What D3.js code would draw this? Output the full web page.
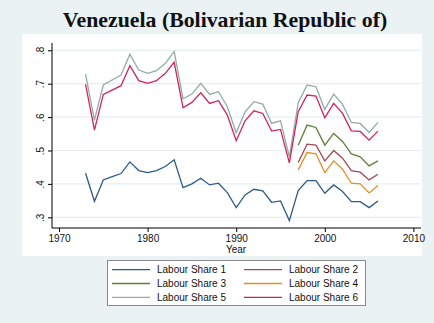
<!DOCTYPE html>
<html>
<head>
<meta charset="utf-8">
<script src="https://cdn.jsdelivr.net/npm/d3@7"></script>
<style>
  html, body { margin: 0; padding: 0; background: #eaf2f3; }
  svg { display: block; }
</style>
</head>
<body>
<svg id="chart" width="434" height="323"></svg>
<script>
// Labour share estimates, Venezuela (Bolivarian Republic of)
const yearsLong = d3.range(1973, 2007);   // 1973–2006
const yearsShort = d3.range(1997, 2007);  // 1997–2006

const share1 = [0.432, 0.348, 0.412, 0.422, 0.431, 0.466, 0.440, 0.434, 0.440, 0.452, 0.472,
                0.389, 0.400, 0.417, 0.397, 0.402, 0.374, 0.329, 0.367, 0.384, 0.379, 0.345, 0.349,
                0.290, 0.380, 0.410, 0.410, 0.372, 0.397, 0.377, 0.347, 0.347, 0.329, 0.349];
const share5 = [0.729, 0.591, 0.696, 0.711, 0.726, 0.788, 0.741, 0.731, 0.739, 0.761, 0.796,
                0.655, 0.669, 0.701, 0.668, 0.676, 0.631, 0.553, 0.616, 0.646, 0.639, 0.581, 0.589,
                0.481, 0.643, 0.696, 0.691, 0.623, 0.669, 0.638, 0.584, 0.581, 0.554, 0.584];
const share6 = [0.698, 0.561, 0.668, 0.681, 0.694, 0.754, 0.709, 0.701, 0.709, 0.731, 0.764,
                0.628, 0.644, 0.673, 0.641, 0.649, 0.606, 0.529, 0.589, 0.619, 0.611, 0.558, 0.563,
                0.463, 0.616, 0.666, 0.663, 0.598, 0.641, 0.611, 0.559, 0.557, 0.531, 0.558];
const share2 = [0.464, 0.519, 0.516, 0.469, 0.500, 0.477, 0.440, 0.435, 0.412, 0.429];
const share3 = [0.516, 0.576, 0.569, 0.516, 0.551, 0.527, 0.490, 0.481, 0.454, 0.469];
const share4 = [0.442, 0.494, 0.490, 0.434, 0.469, 0.444, 0.402, 0.400, 0.373, 0.395];

const xTicks = [1970, 1980, 1990, 2000, 2010];
const yTicks = [0.3, 0.4, 0.5, 0.6, 0.7, 0.8];
const yTickLabels = [".3", ".4", ".5", ".6", ".7", ".8"];

const seriesNames = ["Labour Share 1", "Labour Share 2", "Labour Share 3",
                     "Labour Share 4", "Labour Share 5", "Labour Share 6"];
const seriesColors = ["#2f5a87", "#a04a55", "#5d8038", "#eb8c1e", "#93aca4", "#d0245a"];

const series = [
  { name: seriesNames[0], years: yearsLong, values: share1, color: seriesColors[0] },
  { name: seriesNames[1], years: yearsShort, values: share2, color: seriesColors[1] },
  { name: seriesNames[2], years: yearsShort, values: share3, color: seriesColors[2] },
  { name: seriesNames[3], years: yearsShort, values: share4, color: seriesColors[3] },
  { name: seriesNames[4], years: yearsLong, values: share5, color: seriesColors[4] },
  { name: seriesNames[5], years: yearsLong, values: share6, color: seriesColors[5] }
];

const svg = d3.select("#chart");
const sans = "'Liberation Sans', Arial, sans-serif";

// inner (white) region holding the plot and its axes
svg.append("rect").attr("x", 22).attr("y", 34).attr("width", 400).attr("height", 222)
  .attr("fill", "#ffffff");

// title
svg.append("text")
  .attr("x", 225).attr("y", 27)
  .attr("text-anchor", "middle")
  .style("font-family", "'Liberation Serif', 'Times New Roman', serif")
  .style("font-weight", "bold")
  .style("font-size", "21.8px")
  .attr("fill", "#111")
  .text("Venezuela (Bolivarian Republic of)");

const plotLeft = 52, plotRight = 421, plotTop = 43, plotBottom = 228;
const x = d3.scaleLinear().domain([1970, 2010]).range([59, 413.4]);
const y = d3.scaleLinear().domain([0.3, 0.8]).range([217.3, 50.3]);

// horizontal grid
svg.append("g").selectAll("line").data(yTicks).join("line")
  .attr("x1", plotLeft).attr("x2", plotRight)
  .attr("y1", d => y(d)).attr("y2", d => y(d))
  .attr("stroke", "#e6eff0").attr("stroke-width", 1.2);

// x axis
const xAxis = d3.axisBottom(x).tickValues(xTicks).tickFormat(d3.format("d"))
  .tickSize(4).tickSizeOuter(0);
const gx = svg.append("g").attr("transform", `translate(0,${plotBottom})`).call(xAxis);
gx.select(".domain").remove();
gx.append("line").attr("x1", plotLeft).attr("x2", plotRight)
  .attr("stroke", "#000");
gx.selectAll(".tick line").attr("stroke", "#000");
gx.selectAll(".tick text")
  .attr("y", 6.5)
  .style("font-family", sans).style("font-size", "10px").attr("fill", "#111");

// y axis
const yAxis = d3.axisLeft(y).tickValues(yTicks)
  .tickFormat((d, i) => yTickLabels[i]).tickSize(4).tickSizeOuter(0);
const gy = svg.append("g").attr("transform", `translate(${plotLeft},0)`).call(yAxis);
gy.select(".domain").remove();
gy.append("line").attr("y1", plotTop).attr("y2", plotBottom).attr("stroke", "#000");
gy.selectAll(".tick line").attr("stroke", "#000");
gy.selectAll(".tick text")
  .attr("x", null).attr("dy", null)
  .attr("transform", "translate(-8,0) rotate(-90)")
  .attr("text-anchor", "middle")
  .style("font-family", sans).style("font-size", "10px").attr("fill", "#111");

// x axis title
svg.append("text").attr("x", 236).attr("y", 252.5)
  .attr("text-anchor", "middle")
  .style("font-family", sans).style("font-size", "10px").attr("fill", "#111")
  .text("Year");

// lines
const line = d3.line().x(d => x(d[0])).y(d => y(d[1]));
svg.append("g").selectAll("path").data(series).join("path")
  .attr("d", s => line(s.years.map((yr, i) => [yr, s.values[i]])))
  .attr("fill", "none")
  .attr("stroke", s => s.color)
  .attr("stroke-width", 1.3)
  .attr("stroke-linejoin", "miter");

// legend
const legend = svg.append("g");
legend.append("rect").attr("x", 107.5).attr("y", 260.5).attr("width", 258).attr("height", 45)
  .attr("fill", "#fff").attr("stroke", "#8a8a8a").attr("stroke-width", 1);
const items = legend.selectAll("g.item").data(series).join("g").attr("class", "item")
  .attr("transform", (s, i) => `translate(${i % 2 === 0 ? 112 : 244},${269.7 + Math.floor(i / 2) * 13.8})`);
items.append("line").attr("x1", 0).attr("x2", 38)
  .attr("stroke", s => s.color).attr("stroke-width", 1.3);
items.append("text").attr("x", 45).attr("y", 3.6)
  .style("font-family", sans).style("font-size", "10px").attr("fill", "#111")
  .text(s => s.name);
</script>
</body>
</html>
